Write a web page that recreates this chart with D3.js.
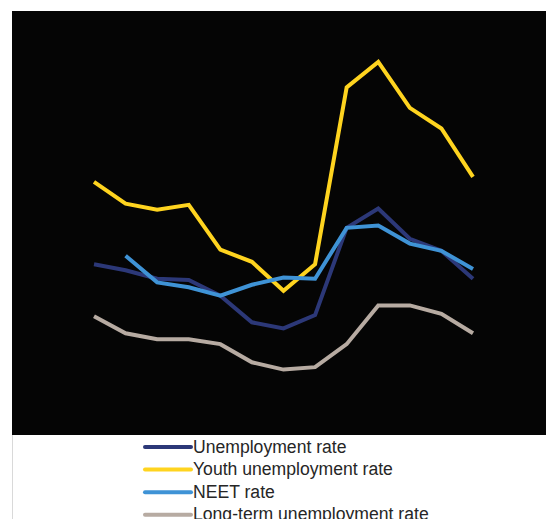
<!DOCTYPE html>
<html>
<head>
<meta charset="utf-8">
<script src="https://cdn.jsdelivr.net/npm/d3@7"></script>
<style>
  html, body { margin: 0; padding: 0; background: #ffffff; }
  svg { display: block; }
</style>
</head>
<body>
<svg id="chart" width="546" height="519"></svg>
<script>
// ---- Data ----
const categories = ["2005","2006","2007","2008","2009","2010","2011","2012","2013","2014","2015","2016","2017"];
const unemploymentRate = [14.1, 13.6, 12.9, 12.8, 11.5, 9.3, 8.8, 9.9, 17.1, 18.7, 16.2, 15.2, 12.9];
const youthUnemploymentRate = [20.9, 19.1, 18.6, 19.0, 15.3, 14.3, 11.9, 14.1, 28.7, 30.8, 27.0, 25.3, 21.3];
const neetRate = [null, 14.8, 12.6, 12.2, 11.5, 12.4, 13.0, 12.9, 17.1, 17.3, 15.8, 15.2, 13.7];
const longTermUnemploymentRate = [9.8, 8.4, 7.9, 7.9, 7.5, 6.0, 5.4, 5.6, 7.5, 10.7, 10.7, 10.0, 8.4];
const seriesNames = ["Unemployment rate", "Youth unemployment rate", "NEET rate", "Long-term unemployment rate"];
const seriesColors = ["#2c3878", "#ffd41f", "#3f93d6", "#b7aba2"];
const yDomain = [0, 35];

const series = [unemploymentRate, youthUnemploymentRate, neetRate, longTermUnemploymentRate];

const svg = d3.select("#chart");

// plot background
const plot = { left: 12, top: 11, right: 546, bottom: 435 };
svg.append("rect")
  .attr("x", plot.left).attr("y", plot.top)
  .attr("width", plot.right - plot.left).attr("height", plot.bottom - plot.top)
  .attr("fill", "#050505");

// thin left border below plot
svg.append("line")
  .attr("x1", 12.5).attr("x2", 12.5)
  .attr("y1", plot.bottom).attr("y2", 519)
  .attr("stroke", "#d9d9d9").attr("stroke-width", 1);

const x = d3.scalePoint().domain(categories).range([94, 473]);
const y = d3.scaleLinear().domain(yDomain).range([plot.bottom, plot.top]);

const line = d3.line()
  .defined(d => d.v !== null)
  .x(d => x(d.c))
  .y(d => y(d.v));

// draw order: long-term, unemployment, youth, NEET on top
const order = [3, 0, 1, 2];
order.forEach(i => {
  const data = categories.map((c, j) => ({ c, v: series[i][j] }));
  svg.append("path")
    .datum(data)
    .attr("d", line)
    .attr("fill", "none")
    .attr("stroke", seriesColors[i])
    .attr("stroke-width", 4)
    .attr("stroke-linejoin", "miter")
    .attr("stroke-linecap", "butt");
});

// legend
const legend = svg.append("g");
seriesNames.forEach((name, i) => {
  const ly = 447 + i * 22.6;
  legend.append("line")
    .attr("x1", 145).attr("x2", 191)
    .attr("y1", ly).attr("y2", ly)
    .attr("stroke", seriesColors[i])
    .attr("stroke-width", 4)
    .attr("stroke-linecap", "round");
  legend.append("text")
    .attr("x", 193).attr("y", ly + 5.5)
    .attr("font-family", "Liberation Sans, Arial, sans-serif")
    .attr("font-size", "17.6px")
    .attr("fill", "#262626")
    .text(name);
});
</script>
</body>
</html>
